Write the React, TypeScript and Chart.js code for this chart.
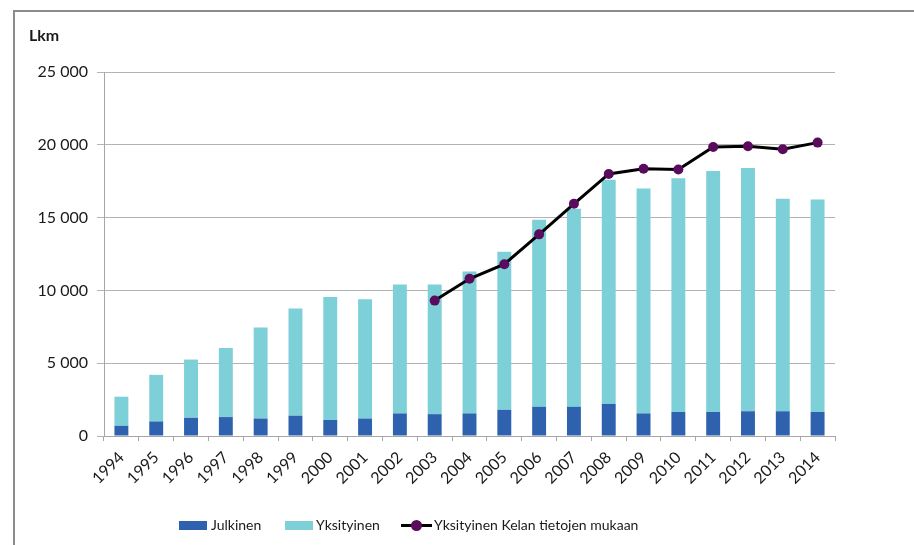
import React, { useEffect, useRef } from "react";
import { Chart, registerables } from "chart.js";

Chart.register(...registerables);

const years = ["1994","1995","1996","1997","1998","1999","2000","2001","2002","2003","2004","2005","2006","2007","2008","2009","2010","2011","2012","2013","2014"];
const julkinen = [700, 1000, 1250, 1300, 1200, 1400, 1100, 1200, 1550, 1500, 1550, 1800, 2000, 2000, 2200, 1550, 1650, 1650, 1700, 1700, 1650];
const yksityinen = [2000, 3200, 4000, 4750, 6250, 7350, 8450, 8200, 8850, 8900, 9750, 10850, 12850, 13600, 15400, 15450, 16050, 16550, 16700, 14600, 14600];
const kela = [null, null, null, null, null, null, null, null, null, 9300, 10800, 11800, 13850, 15950, 18000, 18350, 18300, 19850, 19900, 19700, 20150];
const yTicks = [0, 5000, 10000, 15000, 20000, 25000];

const FONT = "Lato, 'Open Sans', sans-serif";
const C_JULK = "#2e62ae";
const C_YKS = "#7dd0d8";
const C_POINT = "#5b0b5d";

function fmt(v: number): string {
  if (v === 0) return "0";
  const s = String(v);
  return s.slice(0, s.length - 3) + " " + s.slice(s.length - 3);
}

export default function App() {
  const ref = useRef<HTMLCanvasElement | null>(null);
  useEffect(() => {
    document.body.style.margin = "0";
    const canvas = ref.current;
    if (!canvas) return;
    const chart = new Chart(canvas, {
      type: "bar",
      data: {
        labels: years,
        datasets: [
          {
            type: "line",
            label: "Yksityinen Kelan tietojen mukaan",
            data: kela as any,
            borderColor: "#000000",
            borderWidth: 3,
            backgroundColor: C_POINT,
            pointBackgroundColor: C_POINT,
            pointBorderColor: C_POINT,
            pointRadius: 5,
            pointBorderWidth: 0,
            tension: 0,
            stack: "line",
            order: 1,
            spanGaps: false,
          } as any,
          {
            type: "bar",
            label: "Julkinen",
            data: julkinen,
            backgroundColor: C_JULK,
            stack: "bars",
            order: 2,
            barPercentage: 0.8,
            categoryPercentage: 0.5,
          },
          {
            type: "bar",
            label: "Yksityinen",
            data: yksityinen,
            backgroundColor: C_YKS,
            stack: "bars",
            order: 2,
            barPercentage: 0.8,
            categoryPercentage: 0.5,
          },
        ],
      },
      options: {
        responsive: false,
        animation: false,
        devicePixelRatio: 1,
        layout: { padding: { left: 0, top: 72, right: 79, bottom: 0 } },
        plugins: { legend: { display: false }, tooltip: { enabled: false } },
        scales: {
          x: {
            stacked: true,
            grid: {
              display: true,
              drawOnChartArea: false,
              drawTicks: true,
              tickLength: 5,
              offset: true,
              color: "#a6a6a6",
            },
            border: { display: true, color: "#a6a6a6", width: 1 },
            ticks: {
              minRotation: 45,
              maxRotation: 45,
              autoSkip: false,
              padding: 7,
              color: "#1a1a1a",
              font: { family: FONT, size: 16 },
            },
            afterFit: (s: any) => {
              s.height = 109;
            },
          },
          y: {
            stacked: true,
            min: 0,
            max: 25000,
            afterBuildTicks: (s: any) => {
              s.ticks = yTicks.map((v) => ({ value: v }));
            },
            grid: {
              color: "#b3b3b3",
              tickLength: 7,
              drawTicks: true,
            },
            border: { display: true, color: "#a6a6a6", width: 1 },
            ticks: {
              padding: 9,
              color: "#1a1a1a",
              font: { family: FONT, size: 16 },
              callback: (v: any) => fmt(Number(v)),
            },
            afterFit: (s: any) => {
              s.width = 104;
            },
          },
        },
      },
    });
    return () => chart.destroy();
  }, []);

  const legendText: React.CSSProperties = {
    position: "absolute",
    top: 515,
    font: `14px ${FONT}`,
    color: "#1a1a1a",
    lineHeight: "20px",
    whiteSpace: "nowrap",
  };

  return (
    <div style={{ position: "relative", width: 914, height: 545, background: "#fff", overflow: "hidden", fontFamily: FONT }}>
      <canvas ref={ref} width={914} height={545} style={{ position: "absolute", left: 0, top: 0, display: "block" }} />
      <div style={{ position: "absolute", left: 13, top: 10, width: 920, height: 560, borderTop: "2px solid #8c8c8c", borderLeft: "2px solid #8c8c8c", pointerEvents: "none" }} />
      <div style={{ position: "absolute", left: 29, top: 25, font: `bold 16px ${FONT}`, color: "#1a1a1a", lineHeight: "20px" }}>Lkm</div>
      <div style={{ position: "absolute", left: 179, top: 521, width: 28, height: 9, background: C_JULK }} />
      <div style={{ ...legendText, left: 211 }}>Julkinen</div>
      <div style={{ position: "absolute", left: 285, top: 521, width: 28, height: 9, background: C_YKS }} />
      <div style={{ ...legendText, left: 316 }}>Yksityinen</div>
      <div style={{ position: "absolute", left: 401, top: 524, width: 31, height: 3, background: "#000" }} />
      <div style={{ position: "absolute", left: 411, top: 520, width: 11, height: 11, borderRadius: "50%", background: C_POINT }} />
      <div style={{ ...legendText, left: 434 }}>Yksityinen Kelan tietojen mukaan</div>
    </div>
  );
}
